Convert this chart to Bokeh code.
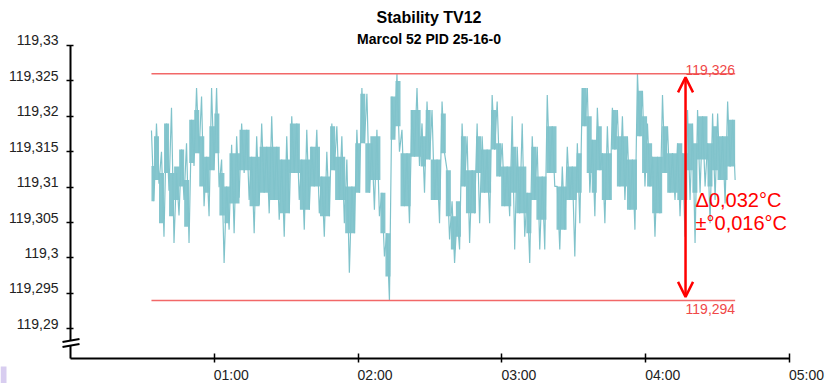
import numpy as np
from bokeh.plotting import figure
from bokeh.models import (Range1d, LinearAxis, FixedTicker, Label,
                          Arrow, OpenHead)
from bokeh.embed import file_html
from bokeh.resources import INLINE

# ---------------- data ----------------
title = "Stability TV12"
subtitle = "Marcol 52 PID 25-16-0"

y_ticks = [119.29, 119.295, 119.30, 119.305, 119.31, 119.315, 119.32, 119.325, 119.33]
y_tick_labels = ["119,29", "119,295", "119,3", "119,305", "119,31",
                 "119,315", "119,32", "119,325", "119,33"]
x_ticks = [1, 2, 3, 4, 5]
x_tick_labels = ["01:00", "02:00", "03:00", "04:00", "05:00"]

t_start, t_end = 0.563, 4.622   # hours of recording

# temperature samples (alternating local highs / lows of the noisy trace)
temps = [
    119.3180, 119.3080, 119.3190, 119.3105, 119.3150, 119.3030, 119.3190, 119.3095, 119.3212, 119.3021,
    119.3120, 119.3060, 119.3153, 119.3082, 119.3162, 119.3021, 119.3195, 119.3130, 119.3240, 119.3148,
    119.3228, 119.3073, 119.3143, 119.3059, 119.3240, 119.3124, 119.3240, 119.3100, 119.3139, 119.2993,
    119.3101, 119.3040, 119.3160, 119.3035, 119.3172, 119.3085, 119.3190, 119.3120, 119.3181, 119.3082,
    119.3143, 119.3035, 119.3172, 119.3075, 119.3190, 119.3092, 119.3157, 119.3063, 119.3200, 119.3082,
    119.3157, 119.3054, 119.3139, 119.3030, 119.3172, 119.3063, 119.3200, 119.3120, 119.3190, 119.3082,
    119.3139, 119.3040, 119.3181, 119.3068, 119.3157, 119.3101, 119.3181, 119.3063, 119.3115, 119.3030,
    119.3150, 119.3059, 119.3190, 119.3124, 119.3186, 119.3082, 119.3172, 119.3049, 119.3139, 119.2979,
    119.3101, 119.3035, 119.3181, 119.3092, 119.3240, 119.3162, 119.3232, 119.3092, 119.3162, 119.3068,
    119.3181, 119.3059, 119.3092, 119.3002, 119.3035, 119.2940, 119.3228, 119.3170, 119.3260, 119.3150,
    119.3181, 119.3073, 119.3148, 119.3049, 119.3209, 119.3143, 119.3240, 119.3130, 119.3190, 119.3092,
    119.3221, 119.3139, 119.3209, 119.3082, 119.3139, 119.3049, 119.3221, 119.3148, 119.3124, 119.3026,
    119.3080, 119.2993, 119.3059, 119.3012, 119.3190, 119.3101, 119.3172, 119.3021, 119.3124, 119.3063,
    119.3190, 119.3049, 119.3172, 119.3092, 119.3153, 119.3049, 119.3230, 119.3153, 119.3221, 119.3115,
    119.3162, 119.3073, 119.3129, 119.3059, 119.3200, 119.3012, 119.3157, 119.3063, 119.3190, 119.3030,
    119.3092, 119.2993, 119.3172, 119.3082, 119.3157, 119.3012, 119.3115, 119.3012, 119.3230, 119.3120,
    119.3186, 119.3101, 119.3101, 119.3012, 119.3129, 119.3040, 119.3157, 119.3082, 119.3129, 119.3002,
    119.3162, 119.3049, 119.3240, 119.3186, 119.3240, 119.3092, 119.3167, 119.3059, 119.3212, 119.3124,
    119.3148, 119.3049, 119.3186, 119.3082, 119.3212, 119.3153, 119.3209, 119.3101, 119.3200, 119.3082,
    119.3172, 119.3068, 119.3139, 119.3040, 119.3260, 119.3172, 119.3236, 119.3101, 119.3190, 119.3101,
    119.3143, 119.3030, 119.3143, 119.3063, 119.3230, 119.3120, 119.3186, 119.3092, 119.3148, 119.3082,
    119.3162, 119.3059, 119.3148, 119.3030, 119.3209, 119.3082, 119.3190, 119.3021, 119.3209, 119.3092,
    119.3200, 119.3101, 119.3162, 119.3049, 119.3204, 119.3082, 119.3204, 119.3110, 119.3172, 119.3077,
    119.3221, 119.3129, 119.3195, 119.3110,
]

# dense core of the trace (per time bucket, upper / lower edge)
core_hi = [
    119.3130, 119.3172, 119.3120, 119.3190, 119.3120, 119.3129, 119.3153, 119.3110, 119.3195, 119.3209,
    119.3172, 119.3143, 119.3186, 119.3204, 119.3120, 119.3101, 119.3148, 119.3148, 119.3181, 119.3181,
    119.3143, 119.3143, 119.3157, 119.3157, 119.3157, 119.3157, 119.3139, 119.3139, 119.3190, 119.3190,
    119.3139, 119.3139, 119.3157, 119.3157, 119.3115, 119.3115, 119.3186, 119.3143, 119.3143, 119.3101,
    119.3101, 119.3162, 119.3232, 119.3162, 119.3172, 119.3172, 119.3092, 119.3035, 119.3228, 119.3250,
    119.3148, 119.3148, 119.3209, 119.3209, 119.3172, 119.3209, 119.3139, 119.3139, 119.3204, 119.3124,
    119.3059, 119.3080, 119.3172, 119.3124, 119.3124, 119.3172, 119.3153, 119.3153, 119.3209, 119.3162,
    119.3129, 119.3129, 119.3157, 119.3129, 119.3129, 119.3092, 119.3157, 119.3115, 119.3115, 119.3186,
    119.3186, 119.3101, 119.3101, 119.3129, 119.3129, 119.3148, 119.3240, 119.3200, 119.3167, 119.3186,
    119.3148, 119.3148, 119.3209, 119.3172, 119.3172, 119.3139, 119.3139, 119.3236, 119.3200, 119.3162,
    119.3143, 119.3143, 119.3186, 119.3148, 119.3148, 119.3162, 119.3148, 119.3190, 119.3162, 119.3200,
    119.3200, 119.3162, 119.3186, 119.3172, 119.3172, 119.3195, 119.3195,
]
core_lo = [
    119.3080, 119.3110, 119.3049, 119.3120, 119.3059, 119.3082, 119.3101, 119.3044, 119.3134, 119.3148,
    119.3101, 119.3092, 119.3124, 119.3148, 119.3060, 119.3049, 119.3077, 119.3077, 119.3124, 119.3124,
    119.3073, 119.3073, 119.3092, 119.3092, 119.3082, 119.3082, 119.3063, 119.3063, 119.3120, 119.3120,
    119.3068, 119.3068, 119.3101, 119.3101, 119.3059, 119.3059, 119.3124, 119.3082, 119.3082, 119.3035,
    119.3035, 119.3092, 119.3162, 119.3092, 119.3110, 119.3110, 119.3035, 119.2974, 119.3167, 119.3186,
    119.3073, 119.3073, 119.3143, 119.3143, 119.3129, 119.3139, 119.3082, 119.3082, 119.3148, 119.3059,
    119.3012, 119.3030, 119.3101, 119.3063, 119.3063, 119.3120, 119.3092, 119.3092, 119.3153, 119.3115,
    119.3073, 119.3073, 119.3092, 119.3063, 119.3063, 119.3035, 119.3082, 119.3054, 119.3054, 119.3120,
    119.3120, 119.3040, 119.3040, 119.3082, 119.3082, 119.3092, 119.3186, 119.3120, 119.3092, 119.3124,
    119.3082, 119.3082, 119.3153, 119.3101, 119.3101, 119.3068, 119.3068, 119.3172, 119.3120, 119.3101,
    119.3063, 119.3063, 119.3120, 119.3092, 119.3092, 119.3082, 119.3082, 119.3124, 119.3092, 119.3139,
    119.3139, 119.3101, 119.3124, 119.3110, 119.3110, 119.3129, 119.3129,
]

upper_limit = 119.326
lower_limit = 119.294
arrow_time = 4.277

# ---------------- geometry helpers (page pixels -> data) ----------------
PX_PER_H = 143.8          # pixels per hour
PX_PER_DEG = 7082.5       # pixels per °C
X0_PX, YTOP_PX = 70, 45   # position of 00:00 and of the top tick (119.33)
Y_TOP_TICK = y_ticks[-1]

def tx(px):
    return (px - X0_PX) / PX_PER_H

def vy(py):
    return Y_TOP_TICK - (py - YTOP_PX) / PX_PER_DEG

W, H = 825, 383
Y_BASE = vy(358)          # value where the broken axis meets the time axis

p = figure(width=W, height=H, x_range=Range1d(tx(0), tx(W)), y_range=Range1d(vy(H), vy(0)),
           output_backend="svg", toolbar_location=None,
           x_axis_location=None, y_axis_location=None,
           min_border_left=0, min_border_right=0, min_border_top=0, min_border_bottom=0)
p.grid.grid_line_color = None
p.outline_line_color = None
p.background_fill_color = "white"
p.border_fill_color = "white"

FONT = "Liberation Sans"
LBL = "#222222"

# y axis (labels sit just above their tick, as in the original)
lab_dy = 5 / PX_PER_DEG
y_lab_pos = [round(v + lab_dy, 6) for v in y_ticks]
yaxis = LinearAxis(fixed_location=0,
                   ticker=FixedTicker(ticks=y_lab_pos, minor_ticks=y_ticks),
                   major_label_overrides={k: s for k, s in zip(y_lab_pos, y_tick_labels)},
                   axis_line_color=None, major_tick_line_color=None,
                   major_tick_in=0, major_tick_out=0,
                   minor_tick_in=3, minor_tick_out=4, minor_tick_line_width=1.5,
                   minor_tick_line_color="black", major_label_standoff=8,
                   major_label_text_font=FONT, major_label_text_font_size="14px",
                   major_label_text_color=LBL)
p.add_layout(yaxis, "left")

# time axis (labels start at their tick, as in the original)
lab_dx = 17.0 / PX_PER_H
x_lab_pos = [round(v + lab_dx, 6) for v in x_ticks]
xaxis = LinearAxis(fixed_location=Y_BASE,
                   ticker=FixedTicker(ticks=x_lab_pos, minor_ticks=x_ticks),
                   major_label_overrides={k: s for k, s in zip(x_lab_pos, x_tick_labels)},
                   axis_line_color=None, major_tick_line_color=None,
                   major_tick_in=0, major_tick_out=0,
                   minor_tick_in=5, minor_tick_out=4, minor_tick_line_width=1.5,
                   minor_tick_line_color="black", major_label_standoff=4,
                   major_label_text_font=FONT, major_label_text_font_size="14px",
                   major_label_text_color=LBL)
p.add_layout(xaxis, "below")

# axis lines, with the break in the value axis
p.line([0, 0], [Y_BASE, vy(345)], line_color="black", line_width=2)
p.line([0, 0], [vy(340), Y_TOP_TICK], line_color="black", line_width=2)
p.line([0, x_ticks[-1]], [Y_BASE, Y_BASE], line_color="black", line_width=2)
for dy in (0, 5):
    p.line([tx(62), tx(79)], [vy(341.5 + dy), vy(338.5 + dy)], line_color="black", line_width=2)

# small lavender corner mark seen in the original screenshot
p.quad(left=tx(0), right=tx(6), top=vy(366), bottom=vy(H), fill_color="#d8cdf0", line_color=None)

# data
TRACE = "#80c3cb"
tb = np.linspace(t_start, t_end, len(core_hi))
p.varea_step(x=tb, y1=core_lo, y2=core_hi, step_mode="center", fill_color=TRACE, fill_alpha=0.95)
t = np.linspace(t_start, t_end, len(temps))
p.line(t, temps, line_color=TRACE, line_width=1.2)

# limit lines
lim_color = "#f26868"
p.line([t[0], t[-1]], [upper_limit, upper_limit], line_color=lim_color, line_width=1.5)
p.line([t[0], t[-1]], [lower_limit, lower_limit], line_color=lim_color, line_width=1.5)
p.add_layout(Label(x=t[-1], y=upper_limit, text=f"{upper_limit:.3f}".replace(".", ","),
                   text_align="right", text_baseline="alphabetic", y_offset=4,
                   text_font=FONT, text_font_size="14px", text_color="#f04848"))
p.add_layout(Label(x=t[-1], y=lower_limit, text=f"{lower_limit:.3f}".replace(".", ","),
                   text_align="right", text_baseline="top", y_offset=-4,
                   text_font=FONT, text_font_size="14px", text_color="#f04848"))

# delta arrow
pad = 0.0005
p.add_layout(Arrow(x_start=arrow_time, y_start=lower_limit + pad, x_end=arrow_time, y_end=upper_limit - pad,
                   line_color="red", line_width=2.5,
                   start=OpenHead(size=15, line_color="red", line_width=2.5),
                   end=OpenHead(size=15, line_color="red", line_width=2.5)))
delta = upper_limit - lower_limit
mid = (upper_limit + lower_limit) / 2
p.add_layout(Label(x=arrow_time, y=mid, x_offset=10, y_offset=-13,
                   text=f"Δ{delta:.3f}°C".replace(".", ","),
                   text_align="left", text_baseline="middle",
                   text_font=FONT, text_font_size="20px", text_color="red"))
p.add_layout(Label(x=arrow_time, y=mid, x_offset=10, y_offset=-36,
                   text=f"±°{delta / 2:.3f}°C".replace(".", ","),
                   text_align="left", text_baseline="middle",
                   text_font=FONT, text_font_size="20px", text_color="red"))

# titles
p.add_layout(Label(x=tx(428.5), y=vy(16.8), text=title, text_align="center", text_baseline="middle",
                   text_font=FONT, text_font_style="bold", text_font_size="16px", text_color="black"))
p.add_layout(Label(x=tx(428.5), y=vy(38), text=subtitle, text_align="center", text_baseline="middle",
                   text_font=FONT, text_font_style="bold", text_font_size="14px", text_color="black"))

open("out.html", "w").write(file_html(p, INLINE))
